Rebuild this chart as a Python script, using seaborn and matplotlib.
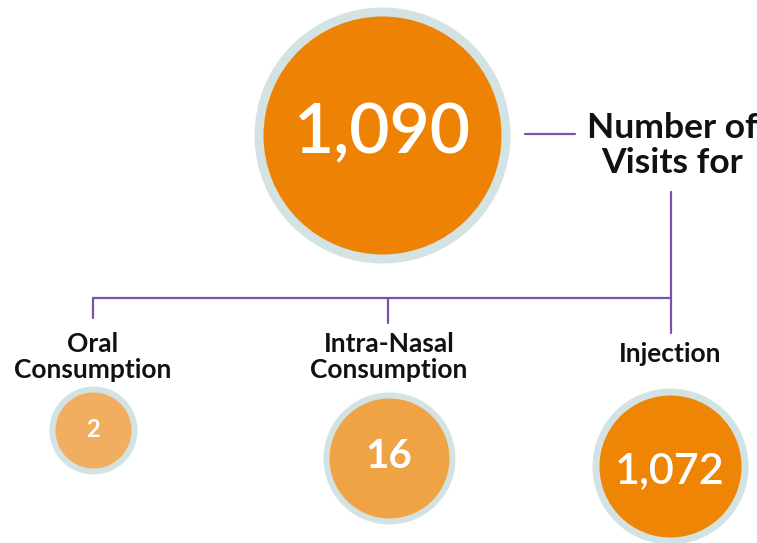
import matplotlib
matplotlib.use("Agg")
import matplotlib.pyplot as plt
import seaborn as sns
import pandas as pd

sns.set_theme(style="white")
plt.rcParams["font.family"] = ["Lato", "DejaVu Sans"]

# data
categories = ["Oral\nConsumption", "Intra-Nasal\nConsumption", "Injection"]
visits = [2, 16, 1072]
total_visits = 1090
title_text = "Number of\nVisits for"

# layout (pixel space, y down)
W, H = 757, 543
total_xy = (382, 135)
total_r = (128, 119)           # outer, inner radius
cat_x = [93, 389, 670]
cat_y = [430, 458, 466]
cat_r = [(44, 38), (66, 60), (78, 71)]
cat_label_y = [352, 352, 362]
cat_num_y = [437, 468, 483]
cat_num_size = [17, 29, 31]
cat_fill = ["#F2AE60", "#F0A345", "#EE8505"]
ring = "#D3E2E2"
purple = "#7B52A8"
px2pt = 72 / 100

fig = plt.figure(figsize=(W / 100, H / 100), dpi=100)
ax = fig.add_axes([0, 0, 1, 1])
ax.set_xlim(0, W)
ax.set_ylim(H, 0)
ax.axis("off")

df = pd.DataFrame({
    "x": [total_xy[0]] + cat_x,
    "y": [total_xy[1]] + cat_y,
    "value": [total_visits] + visits,
    "R": [total_r[0]] + [r[0] for r in cat_r],
    "r": [total_r[1]] + [r[1] for r in cat_r],
    "fill": ["#EE8204"] + cat_fill,
})
df["d"] = (df["R"] + df["r"]) * px2pt
df["lw"] = (df["R"] - df["r"]) * px2pt

for _, row in df.iterrows():
    sns.scatterplot(x=[row["x"]], y=[row["y"]], ax=ax, s=row["d"] ** 2,
                    color=row["fill"], edgecolor=ring, linewidth=row["lw"],
                    legend=False, zorder=3)

# connector lines
lw = 1.6
ax.plot([525, 575], [134, 134], color=purple, lw=lw)
ax.plot([671, 671], [192, 333], color=purple, lw=lw)
ax.plot([93, 671], [298, 298], color=purple, lw=lw)
ax.plot([93, 93], [298, 318], color=purple, lw=lw)
ax.plot([388, 388], [298, 323], color=purple, lw=lw)

# texts
ax.text(total_xy[0], 153, f"{total_visits:,}", color="white", fontsize=50,
        fontweight="semibold", ha="center", va="baseline", zorder=5)
ax.text(672, 138, "Number of", fontsize=25.5, fontweight="bold",
        color="#111111", ha="center", va="baseline")
ax.text(672, 173, "Visits for", fontsize=25.5, fontweight="bold",
        color="#111111", ha="center", va="baseline")

for x, ly, lab, v, ny, fs in zip(cat_x, cat_label_y, categories, visits,
                                 cat_num_y, cat_num_size):
    lines = lab.split("\n")
    for i, ln in enumerate(lines):
        ax.text(x, ly + 26 * i, ln, fontsize=19, fontweight="bold",
                color="#111111", ha="center", va="baseline")
    ax.text(x, ny, f"{v:,}", color="white", fontsize=fs,
            fontweight="bold" if v < 100 else "semibold",
            ha="center", va="baseline", zorder=5)

fig.savefig("out.png", dpi=100)
